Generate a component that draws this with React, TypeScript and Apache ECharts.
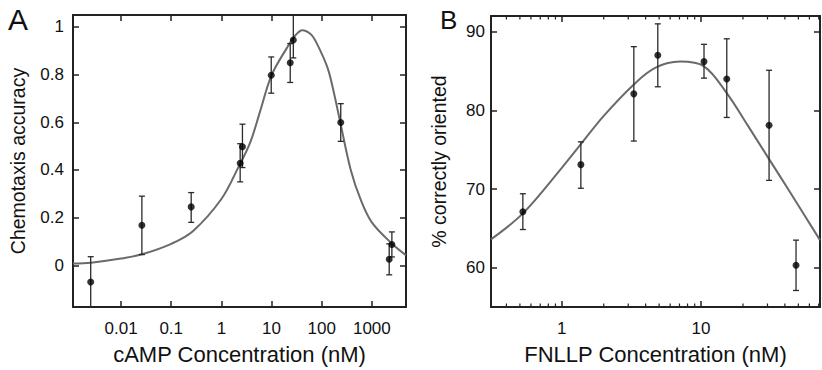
import React, { useEffect, useRef } from "react";
import * as echarts from "echarts";

// ---- Panel A (cAMP) ----
const aPointX = [0.00248, 0.026, 0.25, 2.37, 2.63, 9.86, 23.6, 27.2, 240, 2220, 2510];
const aPointY = [-0.07, 0.168, 0.245, 0.428, 0.497, 0.797, 0.85, 0.945, 0.599, 0.025, 0.0875];
const aErrLow = [-0.19, 0.045, 0.18, 0.35, 0.41, 0.722, 0.767, 0.87, 0.52, -0.04, 0.035];
const aErrHigh = [0.036, 0.29, 0.305, 0.51, 0.592, 0.874, 0.93, 1.06, 0.678, 0.09, 0.14];
const aCurveX = [0.0011, 0.0025, 0.01, 0.026, 0.1, 0.27, 1, 2.2, 3.8, 6, 10, 20, 30, 41, 60, 78, 130, 177, 240, 380, 600, 1000, 2600, 4800];
const aCurveY = [0.008, 0.011, 0.028, 0.046, 0.09, 0.143, 0.278, 0.413, 0.518, 0.65, 0.797, 0.91, 0.965, 0.986, 0.97, 0.935, 0.83, 0.72, 0.59, 0.4, 0.275, 0.18, 0.088, 0.042];
const aXTicks = [0.01, 0.1, 1, 10, 100, 1000];
const aXTickLabels = ["0.01", "0.1", "1", "10", "100", "1000"];
const aYTicks = [0, 0.2, 0.4, 0.6, 0.8, 1];
const aXMin = 0.0011;
const aXMax = 4800;
const aYMin = -0.175;
const aYMax = 1.05;

// ---- Panel B (FNLLP) ----
const bPointX = [0.525, 1.37, 3.29, 4.89, 10.5, 15.3, 30.8, 48.1];
const bPointY = [67.1, 73.1, 82.1, 87.0, 86.2, 84.0, 78.1, 60.3];
const bErrLow = [64.85, 70.1, 76.1, 83.0, 84.1, 79.1, 71.1, 57.1];
const bErrHigh = [69.4, 76.0, 88.1, 91.0, 88.4, 89.1, 85.1, 63.5];
const bCurveX = [0.31, 0.525, 1, 1.37, 2, 3.29, 4.68, 7.07, 10.5, 15.3, 21.8, 30.8, 43.6, 71.5];
const bCurveY = [63.6, 66.9, 72.7, 75.7, 79.3, 83.3, 85.4, 86.2, 85.6, 82.2, 78.0, 73.8, 69.6, 63.5];
const bXTicks = [1, 10];
const bXTickLabels = ["1", "10"];
const bYTicks = [60, 70, 80, 90];
const bMinorTicks = [0.4, 0.5, 0.6, 0.7, 0.8, 0.9, 2, 3, 4, 5, 6, 7, 8, 9, 20, 30, 40, 50, 60, 70];
const bXMin = 0.31;
const bXMax = 71.5;
const bYMin = 55;
const bYMax = 92;

const FONT = "'Liberation Sans', Arial, Helvetica, sans-serif";
const FRAME = "#222222";
const TEXT = "#111";

function matchLabel(v: number, ticks: number[], labels: string[]) {
  for (let i = 0; i < ticks.length; i++) {
    if (Math.abs(v - ticks[i]) <= Math.abs(ticks[i]) * 1e-6 + 1e-9) return labels[i];
  }
  return "";
}

function yFormatter(ticks: number[]) {
  return (v: number) => {
    for (const t of ticks) if (Math.abs(v - t) < 1e-6) return String(t);
    return "";
  };
}

const errorRender = (params: any, api: any) => {
  const x = api.value(0);
  const lo = api.value(1);
  const hi = api.value(2);
  const a = api.coord([x, lo]);
  const b = api.coord([x, hi]);
  const w = 3;
  const style = { stroke: "#2a2a2a", lineWidth: 1.3 };
  return {
    type: "group",
    children: [
      { type: "line", shape: { x1: a[0], y1: a[1], x2: b[0], y2: b[1] }, style },
      { type: "line", shape: { x1: a[0] - w, y1: a[1], x2: a[0] + w, y2: a[1] }, style },
      { type: "line", shape: { x1: b[0] - w, y1: b[1], x2: b[0] + w, y2: b[1] }, style },
    ],
  };
};

// log-minor tick marks along x (top & bottom, inward)
const minorRender = (params: any, api: any) => {
  const x = api.coord([api.value(0), api.value(1)])[0];
  const cs = params.coordSys;
  const style = { stroke: FRAME, lineWidth: 1.2 };
  const bottom = cs.y + cs.height;
  return {
    type: "group",
    children: [
      { type: "line", shape: { x1: x, y1: bottom, x2: x, y2: bottom - 3.5 }, style },
      { type: "line", shape: { x1: x, y1: cs.y, x2: x, y2: cs.y + 3.5 }, style },
    ],
  };
};

function logX(gridIndex: number, min: number, max: number, ticks: number[], labels: string[], name: string, position: string) {
  const show = position === "bottom";
  return {
    type: "log",
    logBase: 10,
    gridIndex,
    position,
    min,
    max,
    name: show ? name : "",
    nameLocation: "middle",
    nameGap: 36,
    nameTextStyle: { fontFamily: FONT, fontSize: 22, color: TEXT },
    axisLine: { show: true, onZero: false, lineStyle: { color: FRAME, width: 2 } },
    axisTick: { show: true, inside: true, length: 6, lineStyle: { color: FRAME, width: 1.5 } },
    axisLabel: {
      show,
      margin: 13,
      fontFamily: FONT,
      fontSize: 17,
      color: TEXT,
      showMinLabel: false,
      showMaxLabel: false,
      formatter: (v: number) => matchLabel(v, ticks, labels),
    },
    splitLine: { show: false },
  };
}

function valY(gridIndex: number, min: number, max: number, ticks: number[], name: string, margin: number, nameGap: number, position: string) {
  const show = position === "left";
  return {
    type: "value",
    gridIndex,
    position,
    min,
    max,
    name: show ? name : "",
    nameLocation: "middle",
    nameGap,
    nameTextStyle: { fontFamily: FONT, fontSize: 19.5, color: TEXT },
    axisLine: { show: true, onZero: false, lineStyle: { color: FRAME, width: 2 } },
    axisTick: { show: true, inside: true, length: 6, lineStyle: { color: FRAME, width: 1.5 } },
    axisLabel: {
      show,
      margin,
      fontFamily: FONT,
      fontSize: 17,
      color: TEXT,
      showMinLabel: false,
      showMaxLabel: false,
      formatter: yFormatter(ticks),
    },
    splitLine: { show: false },
  };
}

export default function App() {
  const ref = useRef<HTMLDivElement>(null);
  useEffect(() => {
    if (!ref.current) return;
    const chart = echarts.init(ref.current, undefined, { renderer: "svg" });
    const aCurve = aCurveX.map((x, i) => [x, aCurveY[i]]);
    const aPts = aPointX.map((x, i) => [x, aPointY[i]]);
    const aErr = aPointX.map((x, i) => [x, aErrLow[i], aErrHigh[i]]);
    const bCurve = bCurveX.map((x, i) => [x, bCurveY[i]]);
    const bPts = bPointX.map((x, i) => [x, bPointY[i]]);
    const bErr = bPointX.map((x, i) => [x, bErrLow[i], bErrHigh[i]]);
    const bMinor = bMinorTicks.map((v) => [v, bYMin]);

    chart.setOption({
      animation: false,
      backgroundColor: "#ffffff",
      grid: [
        { left: 73, top: 15, width: 333, height: 293, show: false },
        { left: 491, top: 16, width: 329, height: 292, show: false },
      ],
      xAxis: [
        logX(0, aXMin, aXMax, aXTicks, aXTickLabels, "cAMP Concentration (nM)", "bottom"),
        logX(0, aXMin, aXMax, aXTicks, aXTickLabels, "", "top"),
        logX(1, bXMin, bXMax, bXTicks, bXTickLabels, "FNLLP Concentration (nM)", "bottom"),
        logX(1, bXMin, bXMax, bXTicks, bXTickLabels, "", "top"),
      ],
      yAxis: [
        valY(0, aYMin, aYMax, aYTicks, "Chemotaxis accuracy", 9, 45, "left"),
        valY(0, aYMin, aYMax, aYTicks, "", 9, 45, "right"),
        valY(1, bYMin, bYMax, bYTicks, "% correctly oriented", 6, 42, "left"),
        valY(1, bYMin, bYMax, bYTicks, "", 6, 42, "right"),
      ],
      graphic: [
        { type: "text", left: 8, top: 4, style: { text: "A", font: `30px ${FONT}`, fill: TEXT } },
        { type: "text", left: 440, top: 7, style: { text: "B", font: `26px ${FONT}`, fill: TEXT } },
      ],
      series: [
        {
          type: "line",
          xAxisIndex: 0,
          yAxisIndex: 0,
          data: aCurve,
          smooth: 0.35,
          showSymbol: false,
          lineStyle: { color: "#6a6a6a", width: 2 },
          z: 1,
        },
        {
          type: "custom",
          xAxisIndex: 0,
          yAxisIndex: 0,
          data: aErr,
          encode: { x: 0, y: [1, 2] },
          renderItem: errorRender,
          clip: true,
          z: 2,
        },
        {
          type: "scatter",
          xAxisIndex: 0,
          yAxisIndex: 0,
          data: aPts,
          symbol: "circle",
          symbolSize: 7,
          itemStyle: { color: "#000" },
          z: 3,
        },
        {
          type: "line",
          xAxisIndex: 2,
          yAxisIndex: 2,
          data: bCurve,
          smooth: 0.35,
          showSymbol: false,
          lineStyle: { color: "#6a6a6a", width: 2 },
          z: 1,
        },
        {
          type: "custom",
          xAxisIndex: 2,
          yAxisIndex: 2,
          data: bErr,
          encode: { x: 0, y: [1, 2] },
          renderItem: errorRender,
          clip: true,
          z: 2,
        },
        {
          type: "scatter",
          xAxisIndex: 2,
          yAxisIndex: 2,
          data: bPts,
          symbol: "circle",
          symbolSize: 7,
          itemStyle: { color: "#000" },
          z: 3,
        },
        {
          type: "custom",
          xAxisIndex: 2,
          yAxisIndex: 2,
          data: bMinor,
          encode: { x: 0, y: 1 },
          renderItem: minorRender,
          silent: true,
          clip: false,
          z: 5,
        },
      ],
    });
    return () => chart.dispose();
  }, []);
  return (
    <div
      ref={ref}
      style={{ position: "fixed", left: 0, top: 0, width: 822, height: 370, background: "#fff" }}
    />
  );
}
